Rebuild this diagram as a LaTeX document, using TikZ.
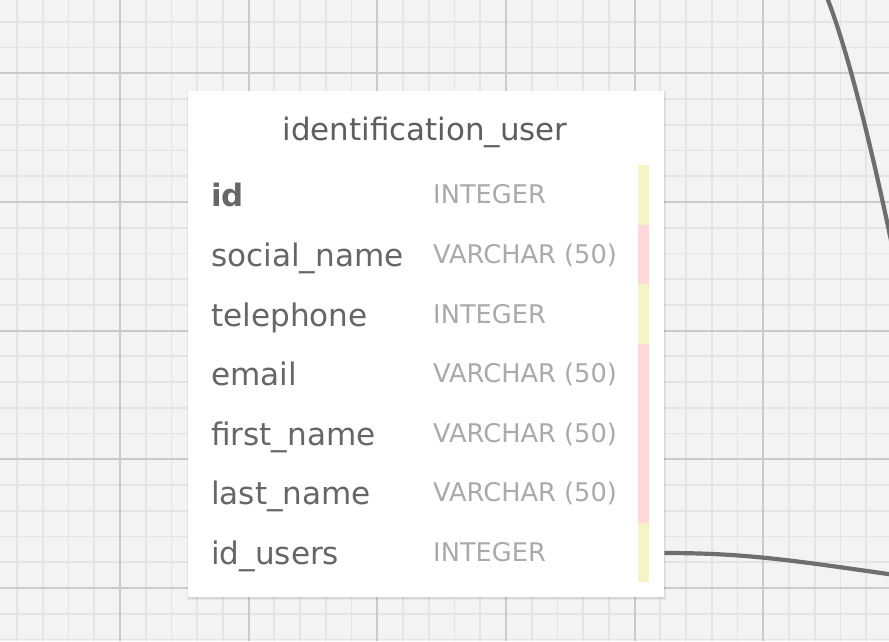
\documentclass[tikz,border=0pt]{standalone}
\usepackage{fontspec}
\setmainfont{DejaVu Sans}
\definecolor{bgc}{HTML}{F3F3F3}
\definecolor{minorc}{HTML}{E4E4E4}
\definecolor{majorc}{HTML}{CACACA}
\definecolor{namec}{HTML}{666666}
\definecolor{titlec}{HTML}{5E5E5E}
\definecolor{typec}{HTML}{AAAAAA}
\definecolor{yelc}{HTML}{F4F4C4}
\definecolor{pinkc}{HTML}{FFD9D9}
\definecolor{linkc}{HTML}{6E6E6E}
\tikzset{
  tablebox/.style={fill=white, draw=none, inner sep=0pt, anchor=north west, minimum width=476pt, minimum height=506pt},
  fname/.style={anchor=base west, inner sep=0pt, text=namec, font=\fontsize{31.1}{36}\selectfont},
  ftype/.style={anchor=base west, inner sep=0pt, text=typec, font=\fontsize{25.7}{30}\selectfont},
  ttitle/.style={anchor=base, inner sep=0pt, text=titlec, font=\fontsize{30.9}{36}\selectfont},
  link/.style={draw=linkc, line width=4.2pt},
}
\begin{document}
\begin{tikzpicture}[x=1pt,y=-1pt]
\useasboundingbox (0,0) rectangle (889,641);
\clip (0,0) rectangle (889,641);
\fill[bgc] (0,0) rectangle (889,641);
% minor grid
\foreach \i in {0,...,35} {
  \draw[minorc, line width=1.8pt] ({-8.67+25.733*\i},0) -- ({-8.67+25.733*\i},641);
}
\foreach \i in {0,...,25} {
  \draw[minorc, line width=1.8pt] (0,{21.8+25.733*\i}) -- (889,{21.8+25.733*\i});
}
% major grid
\foreach \i in {0,...,6} {
  \draw[majorc, line width=2pt] ({120+128.67*\i},0) -- ({120+128.67*\i},641);
}
\foreach \i in {0,...,4} {
  \draw[majorc, line width=2pt] (0,{73.3+128.67*\i}) -- (889,{73.3+128.67*\i});
}
% connectors
\coordinate (topA) at (826,-5);
\coordinate (topB) at (892,245);
\draw[link] (topA) .. controls (848,50) and (872,150) .. (topB);
% shadow
\fill[black, opacity=0.05] (187,91) rectangle (666,600);
\fill[black, opacity=0.05] (187.5,91) rectangle (665,598.5);
% table
\node[tablebox] (tbl) at (188,91) {};
\coordinate (linkEnd) at (895,575);
\draw[link] (tbl.east |- 0,553) .. controls (745,553) and (790,560) .. (linkEnd);
% bar
\fill[yelc] (638,165) rectangle (649.3,224.6);
\fill[pinkc] (638,224.6) rectangle (649.3,284.2);
\fill[yelc] (638,284.2) rectangle (649.3,343.8);
\fill[pinkc] (638,343.8) rectangle (649.3,522.6);
\fill[yelc] (638,522.6) rectangle (649.3,582.2);
% title
\node[ttitle] (title) at (425,140) {identification\_user};
% fields
\node[fname, font=\fontsize{30.9}{36}\selectfont\bfseries] (f1) at (211,206.8) {id};
\node[fname] (f2) at (211,266.4) {social\_name};
\node[fname] (f3) at (211,326) {telephone};
\node[fname] (f4) at (211,385.6) {email};
\node[fname] (f5) at (211,445.2) {first\_name};
\node[fname] (f6) at (211,504.8) {last\_name};
\node[fname] (f7) at (211,564.4) {id\_users};
% types
\node[ftype] (t1) at (433,203.8) {INTEGER};
\node[ftype] (t2) at (433,263.4) {VARCHAR (50)};
\node[ftype] (t3) at (433,323) {INTEGER};
\node[ftype] (t4) at (433,382.6) {VARCHAR (50)};
\node[ftype] (t5) at (433,442.2) {VARCHAR (50)};
\node[ftype] (t6) at (433,501.8) {VARCHAR (50)};
\node[ftype] (t7) at (433,561.4) {INTEGER};
\end{tikzpicture}
\end{document}
